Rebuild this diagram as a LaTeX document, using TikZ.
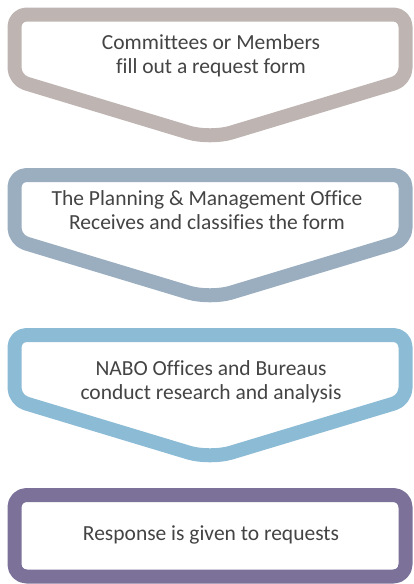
\documentclass[tikz,border=0pt]{standalone}
\usepackage{fontspec}
\setmainfont{Carlito}[Ligatures=NoCommon]
\usepackage{tikz}
\definecolor{formgray}{RGB}{190,181,179}
\definecolor{officeblue}{RGB}{155,174,192}
\definecolor{researchblue}{RGB}{140,187,214}
\definecolor{answerviolet}{RGB}{123,113,153}
\definecolor{labelgray}{RGB}{68,68,68}
\tikzset{  chevbox/.style={line width=14pt,line join=round,rounded corners=12pt,fill=white},
  steptext/.style={align=center,text=labelgray,font=\fontsize{21.5}{23.5}\selectfont,inner sep=0pt} }

\begin{document}
\begin{tikzpicture}[x=1pt,y=-1pt]
  \useasboundingbox (0,0) rectangle (413,584);
  % chevron boxes
  \draw[chevbox,draw=formgray] (210,14.5) -- (405.5,14.5) -- (405.5,80) [rounded corners=22pt] -- (210,139) [rounded corners=12pt] -- (14.5,80) -- (14.5,14.5) -- cycle;
  \draw[chevbox,draw=officeblue] (210,175) -- (405.5,175) -- (405.5,240) [rounded corners=22pt] -- (210,299) [rounded corners=12pt] -- (14.5,240) -- (14.5,175) -- cycle;
  \draw[chevbox,draw=researchblue] (210,335) -- (405.5,335) -- (405.5,400) [rounded corners=22pt] -- (210,459) [rounded corners=12pt] -- (14.5,400) -- (14.5,335) -- cycle;
  \draw[chevbox,draw=answerviolet] (210,495) -- (405.5,495) -- (405.5,576.5) -- (14.5,576.5) -- (14.5,495) -- cycle;
  % texts
  \node[steptext] (request) at (211,56) {Committees or Members\\fill out a request form};
  \node[steptext] (classify) at (207,210) {The Planning \& Management Office\\Receives and classifies the form};
  \node[steptext] (research) at (211,382) {NABO Offices and Bureaus\\conduct research and analysis};
  \node[steptext] (response) at (211,535) {Response is given to requests};
\end{tikzpicture}
\end{document}
